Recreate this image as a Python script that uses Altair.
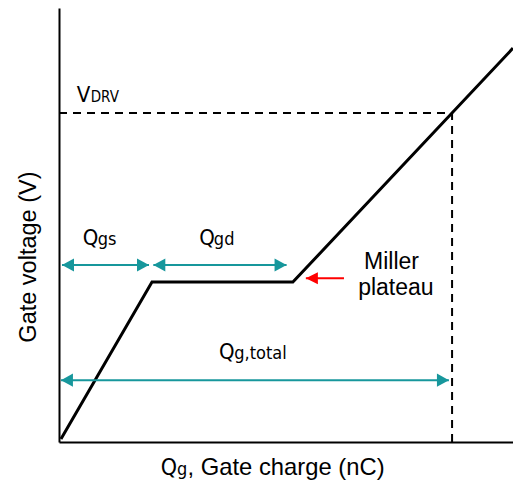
import altair as alt
import pandas as pd

# Gate charge curve (Q in nC-units, V in volt-units; V_DRV = 10, Qg,total = 100)
curve_q = [0.5, 23.66, 59.5, 115.5]
curve_v = [0.09, 4.86, 4.86, 11.97]

# dashed guides
vdrv_level = 10.0
qtotal_level = 100.0

# teal dimension arrows: (start, end, level)
arrow_start = [0.76, 24.0, 0.5]
arrow_end = [22.9, 57.9, 99.2]
arrow_level = [5.38, 5.38, 1.88]

# red arrow (tip, tail, level)
red_tip, red_tail, red_level = 62.8, 72.5, 4.98

# text fragments: narrow-font pieces (Q symbols and subscripts)
n_txt = ["V", "DRV", "Q", "gs", "Q", "gd", "Q", "g,total", "Q", "g"]
n_q = [4.5, 8.07, 6.03, 9.85, 35.7, 39.4, 40.7, 44.6, 25.9, 30.0]
n_v = [10.33, 10.33, 5.99, 5.99, 5.99, 5.99, 2.52, 2.52, -1.0, -1.0]
n_size = [22, 15, 22, 18, 22, 18, 22, 18, 23, 18]

# regular-font pieces
r_txt = ["Miller", "plateau", ", Gate charge (nC)"]
r_q = [77.6, 76.1, 32.7]
r_v = [5.25, 4.47, -1.0]
r_size = [23, 23, 23.8]

ylabel = "Gate voltage (V)"
ylabel_q, ylabel_v = -5.85, 5.62

FONT = "Liberation Sans"
NFONT = "Liberation Sans Narrow, DejaVu Sans Condensed, sans-serif"
TEAL = "#17979c"

xs = alt.Scale(domain=[0, 115.5], nice=False, zero=False)
ys = alt.Scale(domain=[0, 13.19], nice=False, zero=False)
ax = alt.Axis(title=None, labels=False, ticks=False, grid=False, domainColor="black", domainWidth=2)


def X(f):
    return alt.X(f, scale=xs, axis=ax, title=None)


def Y(f):
    return alt.Y(f, scale=ys, axis=ax, title=None)


curve_df = pd.DataFrame({"q": curve_q, "v": curve_v})
base = alt.Chart(curve_df).mark_line(color="black", strokeWidth=3, strokeJoin="miter").encode(
    x=X("q:Q"), y=Y("v:Q"),
)

dash_df = pd.DataFrame({
    "q": [0, qtotal_level], "v": [vdrv_level, 0],
    "q2": [qtotal_level, qtotal_level], "v2": [vdrv_level, vdrv_level],
})
dashes = alt.Chart(dash_df).mark_rule(color="black", strokeWidth=2, strokeDash=[8, 6]).encode(
    x=X("q:Q"), y=Y("v:Q"), x2="q2:Q", y2="v2:Q",
)

arr_df = pd.DataFrame({"q": arrow_start, "b": arrow_end, "v": arrow_level})
shafts = alt.Chart(arr_df).mark_rule(color=TEAL, strokeWidth=2).encode(
    x=X("q:Q"), x2="b:Q", y=Y("v:Q"),
)
left_heads = alt.Chart(arr_df).mark_point(
    shape="M0,0L2,-1.1L2,1.1Z", filled=True, color=TEAL, opacity=1, size=144, strokeWidth=0
).encode(x=X("q:Q"), y=Y("v:Q"))
right_heads = alt.Chart(arr_df).mark_point(
    shape="M0,0L-2,-1.1L-2,1.1Z", filled=True, color=TEAL, opacity=1, size=144, strokeWidth=0
).encode(x=X("b:Q"), y=Y("v:Q"))

red_df = pd.DataFrame({"q": [red_tip], "b": [red_tail], "v": [red_level]})
red_shaft = alt.Chart(red_df).mark_rule(color="#ff0000", strokeWidth=2).encode(
    x=X("q:Q"), x2="b:Q", y=Y("v:Q"),
)
red_head = alt.Chart(red_df).mark_point(
    shape="M0,0L2,-1L2,1Z", filled=True, color="#ff0000", opacity=1, size=144, strokeWidth=0
).encode(x=X("q:Q"), y=Y("v:Q"))

n_df = pd.DataFrame({"t": n_txt, "q": n_q, "v": n_v, "s": n_size})
n_texts = alt.Chart(n_df).mark_text(align="left", baseline="alphabetic", font=NFONT, color="black").encode(
    x=X("q:Q"), y=Y("v:Q"), text="t:N", size=alt.Size("s:Q", scale=None, legend=None),
)
r_df = pd.DataFrame({"t": r_txt, "q": r_q, "v": r_v, "s": r_size})
r_texts = alt.Chart(r_df).mark_text(align="left", baseline="alphabetic", font=FONT, color="black").encode(
    x=X("q:Q"), y=Y("v:Q"), text="t:N", size=alt.Size("s:Q", scale=None, legend=None),
)

yl_df = pd.DataFrame({"t": [ylabel], "q": [ylabel_q], "v": [ylabel_v]})
ytitle = alt.Chart(yl_df).mark_text(align="center", baseline="alphabetic", angle=270, font=FONT,
                                    fontSize=23.5, color="black").encode(
    x=X("q:Q"), y=Y("v:Q"), text="t:N",
)

chart = alt.layer(base, dashes, shafts, left_heads, right_heads, red_shaft, red_head,
                  n_texts, r_texts, ytitle).properties(
    width=454, height=434,
    autosize=alt.AutoSizeParams(type="none"),
    padding={"left": 51, "top": 0, "right": 0, "bottom": 40},
).configure_view(stroke=None)

chart.save("out.html", embed_options={"renderer": "svg", "actions": False})
